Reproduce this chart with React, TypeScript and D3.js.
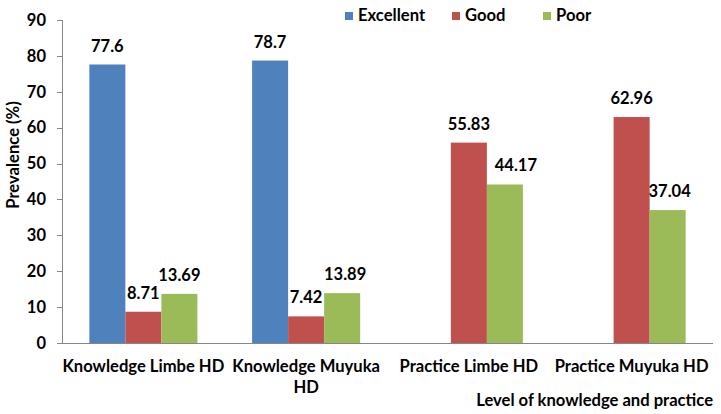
import React, { useRef, useEffect } from 'react'
import * as d3 from 'd3'

const categories = ['Knowledge Limbe HD', 'Knowledge Muyuka HD', 'Practice Limbe HD', 'Practice Muyuka HD']
const seriesNames = ['Excellent', 'Good', 'Poor']
const excellent = [77.6, 78.7, null, null]
const good = [8.71, 7.42, 55.83, 62.96]
const poor = [13.69, 13.89, 44.17, 37.04]
const yTicks = [0, 10, 20, 30, 40, 50, 60, 70, 80, 90]
const colors = ['#4F81BD', '#C0504D', '#9BBB59']

const FONT = 'Lato, "Open Sans", sans-serif'

const App = () => {
	const svgRef = useRef<SVGSVGElement>(null)

	useEffect(() => {
		const svg = d3.select(svgRef.current)
		svg.selectAll('*').remove()

		const width = 721
		const height = 414
		const margin = { top: 20, right: 8, bottom: 71, left: 62 }

		const series = [excellent, good, poor]
		// small horizontal nudges Excel made to some labels
		const labelShift = [
			[0, 0, 0, 0],
			[0, 0, 0, 0],
			[0, 3, 11, 2],
		]

		const x0 = d3
			.scaleBand()
			.domain(categories)
			.range([margin.left, width - margin.right])
			.paddingInner(0.336)
			.paddingOuter(0.168)

		const x1 = d3.scaleBand().domain(seriesNames).range([0, x0.bandwidth()])

		const y = d3
			.scaleLinear()
			.domain([0, 90])
			.range([height - margin.bottom, margin.top])

		// y axis
		const yAxis = svg.append('g').attr('transform', `translate(${margin.left},0)`)
		yAxis
			.append('line')
			.attr('x1', 0.5)
			.attr('x2', 0.5)
			.attr('y1', y(0))
			.attr('y2', y(90))
			.attr('stroke', '#868686')
		yTicks.forEach(t => {
			yAxis
				.append('line')
				.attr('x1', -5)
				.attr('x2', 0.5)
				.attr('y1', Math.round(y(t)) + 0.5)
				.attr('y2', Math.round(y(t)) + 0.5)
				.attr('stroke', '#868686')
			yAxis
				.append('text')
				.attr('x', -16)
				.attr('y', y(t))
				.attr('dy', '0.35em')
				.attr('text-anchor', 'end')
				.attr('font-family', FONT)
				.attr('font-weight', 'bold')
				.attr('font-size', 16.5)
				.text(t)
		})

		// bars
		series.forEach((vals, si) => {
			vals.forEach((v, ci) => {
				if (v == null) return
				const bx = x0(categories[ci])! + x1(seriesNames[si])!
				svg
					.append('rect')
					.attr('x', bx)
					.attr('y', y(v))
					.attr('width', x1.bandwidth())
					.attr('height', y(0) - y(v))
					.attr('fill', colors[si])
				svg
					.append('text')
					.attr('x', bx + x1.bandwidth() / 2 + labelShift[si][ci])
					.attr('y', y(v) - 13)
					.attr('text-anchor', 'middle')
					.attr('font-family', FONT)
					.attr('font-weight', 'bold')
					.attr('font-size', 16.5)
					.text(v)
			})
		})

		// x axis line
		svg
			.append('line')
			.attr('x1', margin.left)
			.attr('x2', width - margin.right)
			.attr('y1', Math.round(y(0)) + 0.5)
			.attr('y2', Math.round(y(0)) + 0.5)
			.attr('stroke', '#868686')

		// category labels
		const catLines: Record<string, string[]> = {
			'Knowledge Muyuka HD': ['Knowledge Muyuka', 'HD'],
		}
		categories.forEach(c => {
			const lines = catLines[c] || [c]
			const t = svg
				.append('text')
				.attr('text-anchor', 'middle')
				.attr('font-family', FONT)
				.attr('font-weight', 'bold')
				.attr('font-size', 16.6)
			lines.forEach((l, i) => {
				t.append('tspan')
					.attr('x', x0(c)! + x0.bandwidth() / 2)
					.attr('y', 372 + i * 21)
					.text(l)
			})
		})

		// axis titles
		svg
			.append('text')
			.attr('x', width - margin.right)
			.attr('y', 406)
			.attr('text-anchor', 'end')
			.attr('font-family', FONT)
			.attr('font-weight', 'bold')
			.attr('font-size', 16.6)
			.text('Level of knowledge and practice')

		svg
			.append('text')
			.attr('transform', `translate(19,155) rotate(-90)`)
			.attr('text-anchor', 'middle')
			.attr('font-family', FONT)
			.attr('font-weight', 'bold')
			.attr('font-size', 16.6)
			.text('Prevalence (%)')

		// legend
		const legendX = [345, 452, 543]
		seriesNames.forEach((s, i) => {
			svg
				.append('rect')
				.attr('x', legendX[i])
				.attr('y', 12)
				.attr('width', 8)
				.attr('height', 8)
				.attr('fill', colors[i])
			svg
				.append('text')
				.attr('x', legendX[i] + 13)
				.attr('y', 21)
				.attr('font-family', FONT)
				.attr('font-weight', 'bold')
				.attr('font-size', 16.6)
				.text(s)
		})
	}, [])

	return <svg ref={svgRef} width={721} height={414} style={{ display: 'block', position: 'absolute', left: 0, top: 0 }}></svg>
}

export default App
